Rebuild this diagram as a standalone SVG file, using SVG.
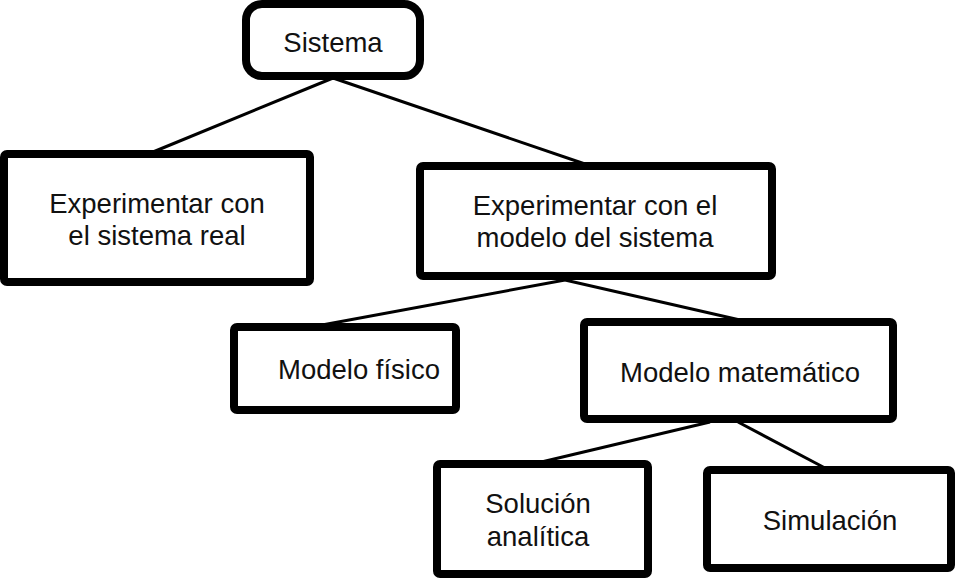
<svg xmlns="http://www.w3.org/2000/svg" width="958" height="580" viewBox="0 0 958 580">
<style>
.box{fill:#fff;stroke:#000;stroke-width:8}
.t{font-family:"Liberation Sans",Arial,sans-serif;font-size:27.5px;fill:#111;text-anchor:middle}
.c{stroke:#000;stroke-width:3;fill:none}
</style>
<rect width="958" height="580" fill="#fff"/>
<g id="connectors">
<line class="c" x1="333" y1="78" x2="153" y2="152"/>
<line class="c" x1="333" y1="78" x2="585" y2="164"/>
<line class="c" x1="565" y1="280" x2="322" y2="325"/>
<line class="c" x1="565" y1="280" x2="740" y2="320"/>
<line class="c" x1="710" y1="422" x2="533" y2="464"/>
<line class="c" x1="738" y1="422" x2="825" y2="468"/>
</g>
<g id="sistema">
<rect class="box" x="246" y="4" width="174" height="72" rx="16"/>
<text class="t" x="333" y="52">Sistema</text>
</g>
<g id="sistema-real">
<rect class="box" x="4" y="154" width="306" height="128" rx="3"/>
<text class="t" x="157" y="213">Experimentar con</text>
<text class="t" x="157" y="245">el sistema real</text>
</g>
<g id="modelo-sistema">
<rect class="box" x="420" y="166" width="352" height="110" rx="3"/>
<text class="t" x="595" y="215">Experimentar con el</text>
<text class="t" x="595" y="247">modelo del sistema</text>
</g>
<g id="modelo-fisico">
<rect class="box" x="234" y="327" width="222" height="83" rx="3"/>
<text class="t" x="359" y="379">Modelo físico</text>
</g>
<g id="modelo-matematico">
<rect class="box" x="584" y="322" width="309" height="97" rx="3"/>
<text class="t" x="740" y="382">Modelo matemático</text>
</g>
<g id="solucion-analitica">
<rect class="box" x="437" y="464" width="211" height="110" rx="3"/>
<text class="t" x="538" y="513">Solución</text>
<text class="t" x="538" y="546">analítica</text>
</g>
<g id="simulacion">
<rect class="box" x="707" y="470" width="244" height="98" rx="3"/>
<text class="t" x="830" y="530">Simulación</text>
</g>
</svg>
